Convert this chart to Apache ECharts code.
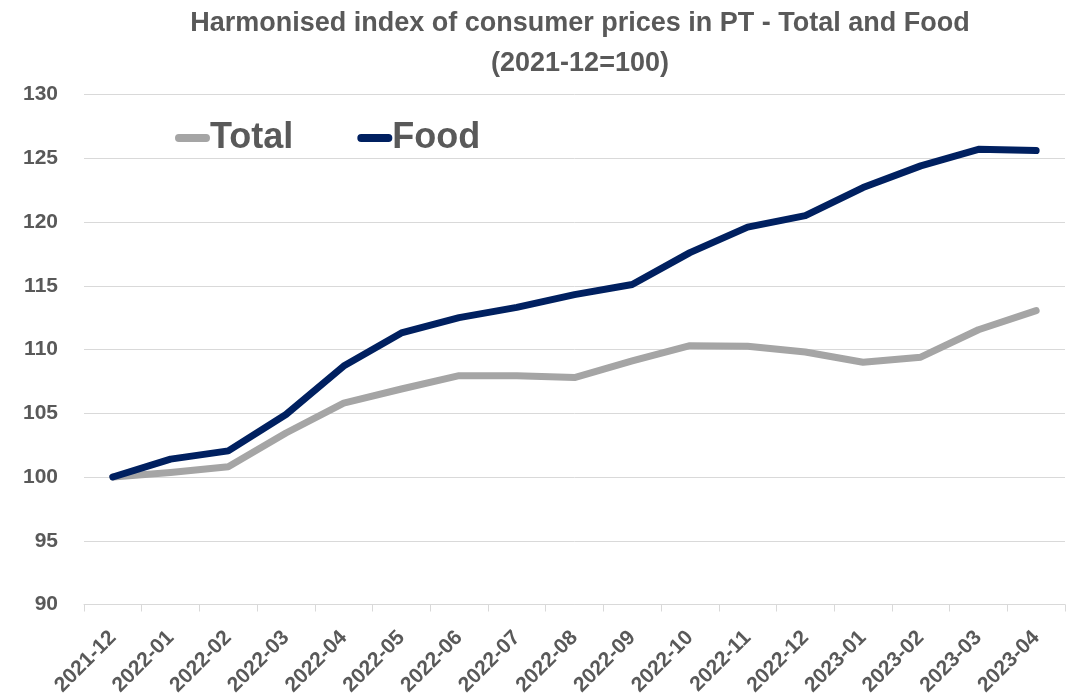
<!DOCTYPE html>
<html>
<head>
<meta charset="utf-8">
<script src="https://cdn.jsdelivr.net/npm/echarts@6/dist/echarts.min.js"></script>
<style>html,body{margin:0;padding:0;background:#fff;}#chart{width:1070px;height:700px;}</style>
</head>
<body>
<div id="chart"></div>
<script>
const categories = ['2021-12','2022-01','2022-02','2022-03','2022-04','2022-05','2022-06','2022-07','2022-08','2022-09','2022-10','2022-11','2022-12','2023-01','2023-02','2023-03','2023-04'];
const totalValues = [100, 100.35, 100.8, 103.45, 105.8, 106.9, 107.95, 107.95, 107.8, 109.1, 110.3, 110.25, 109.8, 109.0, 109.4, 111.55, 113.05];
const foodValues = [100, 101.4, 102.05, 104.9, 108.7, 111.3, 112.5, 113.3, 114.3, 115.1, 117.6, 119.6, 120.5, 122.7, 124.4, 125.7, 125.6];
const yTicks = [90, 95, 100, 105, 110, 115, 120, 125, 130];

const FONT = '"Liberation Sans", Arial, sans-serif';
const GREY = '#595959';
const chart = echarts.init(document.getElementById('chart'), null, {renderer: 'canvas'});
const capsule = 'path://M4,0 H32 A4,4 0 0 1 32,8 H4 A4,4 0 0 1 4,0 Z';
chart.setOption({
  animation: false,
  backgroundColor: '#ffffff',
  title: {
    text: 'Harmonised index of consumer prices in PT - Total and Food\n(2021-12=100)',
    left: 580,
    top: 4,
    padding: 0,
    textAlign: 'center',
    textStyle: {fontFamily: FONT, fontWeight: 'bold', fontSize: 27, color: GREY, lineHeight: 40, align: 'center'}
  },
  legend: {
    left: 175,
    top: 120,
    padding: 0,
    itemWidth: 35,
    itemHeight: 8,
    itemGap: 64,
    icon: capsule,
    textStyle: {fontFamily: FONT, fontWeight: 'bold', fontSize: 36, color: GREY, padding: [0, 0, 0, -5]},
    data: [{name: 'Total', icon: capsule}, {name: 'Food', icon: capsule}]
  },
  grid: {left: 84, right: 5, top: 94.5, bottom: 95.5, containLabel: false},
  xAxis: {
    type: 'category',
    data: categories,
    boundaryGap: true,
    axisLine: {show: true, lineStyle: {color: '#D9D9D9', width: 1}},
    axisTick: {show: true, length: 7, alignWithLabel: false, lineStyle: {color: '#D9D9D9'}},
    axisLabel: {rotate: 45, interval: 0, margin: 30, fontFamily: FONT, fontWeight: 'bold', fontSize: 21, color: GREY}
  },
  yAxis: {
    type: 'value',
    min: yTicks[0],
    max: yTicks[yTicks.length - 1],
    interval: 5,
    axisLine: {show: false},
    axisTick: {show: false},
    splitLine: {show: true, lineStyle: {color: '#D9D9D9', width: 1}},
    axisLabel: {margin: 26, fontFamily: FONT, fontWeight: 'bold', fontSize: 21, color: GREY}
  },
  series: [
    {name: 'Total', type: 'line', data: totalValues, symbol: 'none', color: '#A5A5A5',
     lineStyle: {width: 7, color: '#A5A5A5', cap: 'round', join: 'round'}},
    {name: 'Food', type: 'line', data: foodValues, symbol: 'none', color: '#002060',
     lineStyle: {width: 7, color: '#002060', cap: 'round', join: 'round'}}
  ]
});
</script>
</body>
</html>
